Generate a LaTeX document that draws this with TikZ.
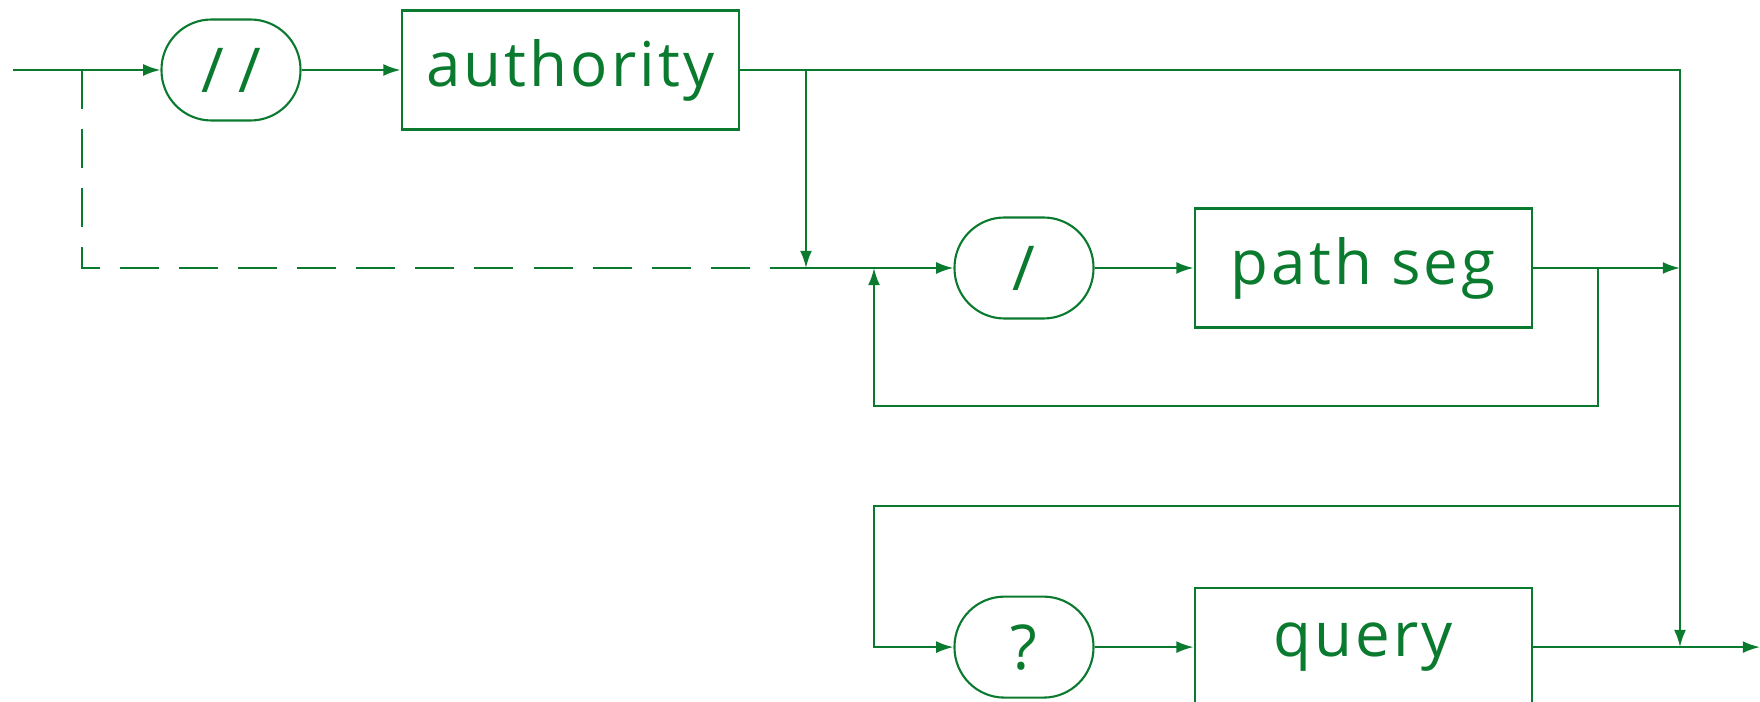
\documentclass[tikz,border=0pt]{standalone}
\usepackage{fontspec}
\setmainfont[LetterSpace=5]{Open Sans}
\usepackage{xcolor}
\usepackage[]{tikz}
\usetikzlibrary{positioning,calc}
\usetikzlibrary{arrows.meta}
\definecolor{railGreen}{HTML}{0A7A2E}
\tikzstyle{nodeTerm} =[draw, rounded corners=0.5cm, minimum width=1.39cm, minimum height=1.01cm, inner sep=0pt]
\tikzstyle{nodeRule} =[draw, rectangle, minimum width=3.37cm, minimum height=1.19cm, inner sep=0pt]
\tikzset{skipline/.style={dash pattern=on 11.1pt off 5.7pt}}
\begin{document}
\begin{tikzpicture}[line width=0.6pt, draw=railGreen, text=railGreen,
    font=\fontsize{17.6}{20}\selectfont,
    >={Latex[length=4.9pt,width=3.4pt]}]
      \useasboundingbox (0,0) rectangle (17.6,-7.02);
      \node[nodeTerm] (dslash) [] at (2.31,-0.70) {/\kern4pt/};
      \node[nodeRule] (auth) [right = 0.99cm of dslash] {authority};
      \node[nodeTerm] (slash) [] at (10.24,-2.68) {/};
      \node[nodeRule] (seg) [right = 0.99cm of slash] {path seg};
      \node[nodeTerm] (qmark) [below = 2.76cm of slash] {?};
      \node[nodeRule] (query) [right = 0.99cm of qmark] {query};
      \coordinate (in) at (0.13,-0.70);
      \coordinate (fork) at (0.82,-0.70);
      \coordinate (join) at (8.06,-2.68);
      \coordinate (rail) at (16.80,-0.70);
      \coordinate (back) at (15.98,-4.06);
      \coordinate (loop) at (8.74,-4.06);
      \coordinate (skip) at (8.74,-5.06);
      \coordinate (out) at (17.60,0);
      % top row
      \draw[->] (in) -- (dslash);
      \draw[->] (dslash) -- (auth);
      \draw[skipline] (fork) -- (fork |- join) -- (join);
      \draw[->] (auth.east) -- (rail) -- (rail |- query);
      \draw[->] (auth.east -| join) -- (join);
      % path segments
      \draw[->] (join) -- (slash);
      \draw[->] (slash) -- (seg);
      \draw[->] (seg) -- (seg -| rail);
      \draw[->] (seg.east -| back) -- (back) -- (loop) -- (loop |- slash);
      % query
      \draw[->] (rail |- skip) -- (skip) -- (skip |- qmark) -- (qmark);
      \draw[->] (qmark) -- (query);
      \draw[->] (query) -- (query -| out);
    \end{tikzpicture}
\end{document}
